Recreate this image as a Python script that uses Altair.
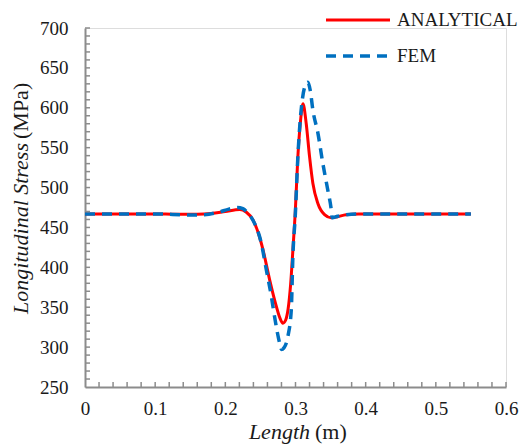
import altair as alt
import pandas as pd

series = ["ANALYTICAL", "FEM"]
colors = ["#ff0000", "#0070c0"]

x_analytical = [0, 0.05, 0.10, 0.13, 0.16, 0.18, 0.20, 0.2205, 0.230, 0.2394, 0.247, 0.2537,
                0.263, 0.2727, 0.278, 0.2821, 0.286, 0.2895, 0.293, 0.2963, 0.2997, 0.3034,
                0.3068, 0.3106, 0.3153, 0.320, 0.3248, 0.3319, 0.3414, 0.351, 0.36, 0.372,
                0.39, 0.45, 0.50, 0.55]
y_analytical = [467, 467, 467, 466.5, 466.5, 467.5, 470, 472.5, 469, 459.5, 443, 422,
                385, 351, 336, 330, 334, 348, 378, 422, 470, 539,
                580, 605, 580, 539, 505, 480, 466, 462, 463.5, 466,
                467, 467, 467, 467]

x_fem = [0, 0.05, 0.10, 0.15, 0.17, 0.19, 0.205, 0.217, 0.225, 0.232, 0.2394, 0.2513,
         0.2584, 0.2655, 0.270, 0.2774, 0.280, 0.2835, 0.2893, 0.294, 0.2963, 0.2997,
         0.3034, 0.3068, 0.310, 0.3135, 0.3177, 0.321, 0.3248, 0.332, 0.339, 0.346,
         0.351, 0.3523, 0.36, 0.372, 0.39, 0.45, 0.55]
y_fem = [467, 467, 467, 465.5, 466, 469, 473, 475, 473.5, 468, 459, 430,
         397, 364, 339, 305, 297, 299, 314, 347, 415, 465,
         539, 585, 612, 627, 632, 622, 597, 568, 530, 497,
         472, 462, 464, 466, 467, 467, 467]

x_ticks_major = [0, 0.1, 0.2, 0.3, 0.4, 0.5, 0.6]
y_ticks_major = [250, 300, 350, 400, 450, 500, 550, 600, 650, 700]
x_ticks_minor = [round(0.02 * i, 2) for i in range(1, 31)]
y_ticks_minor = [250 + 10 * i for i in range(1, 46)]

W, H = 421, 359
FONT = "Times New Roman, Liberation Serif, serif"
AXC = "#8c8c8c"
TXT = "#1a1a1a"

df_a = pd.DataFrame({"x": x_analytical, "y": y_analytical, "s": series[0]})
df_f = pd.DataFrame({"x": x_fem, "y": y_fem, "s": series[1]})

xs = alt.Scale(domain=[0, 0.6], nice=False)
ys = alt.Scale(domain=[250, 700], nice=False)

xaxis = alt.Axis(values=x_ticks_major, format=".1~f", title=None, grid=False, ticks=False,
                 tickSize=0, domainColor=AXC, domainWidth=2, labelFont=FONT,
                 labelFontSize=19, labelColor=TXT, labelPadding=12, labelFlush=False,
                 labelOverlap=False)
yaxis = alt.Axis(values=y_ticks_major, format="d", title=None, grid=False, ticks=False,
                 tickSize=0, domainColor=AXC, domainWidth=2, labelFont=FONT,
                 labelFontSize=19, labelColor=TXT, labelPadding=17, labelFlush=False,
                 labelOverlap=False)

line_a = alt.Chart(df_a).mark_line(color=colors[0], strokeWidth=3, interpolate="monotone").encode(
    x=alt.X("x:Q", scale=xs, axis=xaxis),
    y=alt.Y("y:Q", scale=ys, axis=yaxis),
)
line_f = alt.Chart(df_f).mark_line(color=colors[1], strokeWidth=3.5, strokeDash=[10, 7],
                                   interpolate="monotone").encode(
    x=alt.X("x:Q", scale=xs, axis=xaxis),
    y=alt.Y("y:Q", scale=ys, axis=yaxis),
)

xt = alt.Chart(pd.DataFrame({"t": x_ticks_minor})).mark_rule(color=AXC, strokeWidth=1.5).encode(
    x=alt.X("t:Q", scale=xs, axis=xaxis), y=alt.value(H), y2=alt.value(H - 5))
yt = alt.Chart(pd.DataFrame({"t": y_ticks_minor})).mark_rule(color=AXC, strokeWidth=1.5).encode(
    y=alt.Y("t:Q", scale=ys, axis=yaxis), x=alt.value(0), x2=alt.value(5))

one = pd.DataFrame({"a": [0]})
leg_a = alt.Chart(one).mark_rule(color=colors[0], strokeWidth=3).encode(
    x=alt.value(241), x2=alt.value(305), y=alt.value(-8))
leg_f = alt.Chart(one).mark_rule(color=colors[1], strokeWidth=3.5, strokeDash=[10, 7]).encode(
    x=alt.value(241), x2=alt.value(305), y=alt.value(28))
leg_ta = alt.Chart(one).mark_text(text=series[0], font=FONT, fontSize=19, color=TXT,
                                  align="left", baseline="middle").encode(
    x=alt.value(312), y=alt.value(-8))
leg_tf = alt.Chart(one).mark_text(text=series[1], font=FONT, fontSize=19, color=TXT,
                                  align="left", baseline="middle").encode(
    x=alt.value(312), y=alt.value(28))

xt1 = alt.Chart(one).mark_text(text="Length", font=FONT, fontSize=22, fontStyle="italic",
                               color=TXT, align="right", baseline="middle").encode(
    x=alt.value(225), y=alt.value(404))
xt2 = alt.Chart(one).mark_text(text="(m)", font=FONT, fontSize=22, color=TXT,
                               align="left", baseline="middle").encode(
    x=alt.value(230), y=alt.value(404))
yt1 = alt.Chart(one).mark_text(text="Longitudinal Stress", font=FONT, fontSize=22,
                               fontStyle="italic", color=TXT, angle=270, align="right",
                               baseline="middle").encode(
    x=alt.value(-64), y=alt.value(115))
yt2 = alt.Chart(one).mark_text(text="(MPa)", font=FONT, fontSize=22, color=TXT, angle=270,
                               align="left", baseline="middle").encode(
    x=alt.value(-64), y=alt.value(111))

chart = alt.layer(line_a, line_f, xt, yt, leg_a, leg_f, leg_ta, leg_tf, xt1, xt2, yt1, yt2).properties(
    width=W, height=H,
    autosize=alt.AutoSizeParams(type="none"),
    padding={"left": 85, "top": 28, "right": 17, "bottom": 58},
).configure_view(stroke=None).configure_axis(labelOverlap=False).configure(background="white")

chart.save("out.html", embed_options={"renderer": "svg", "actions": False})
